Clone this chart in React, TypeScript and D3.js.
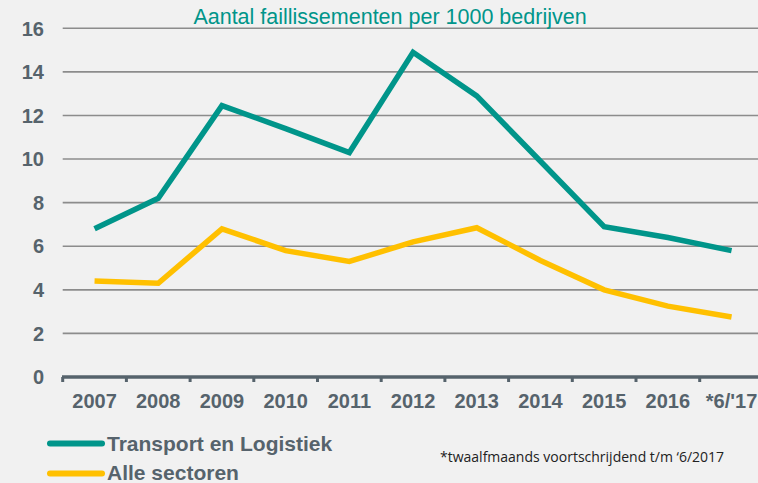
import React from "react";
import * as d3 from "d3";

const categories = ["2007","2008","2009","2010","2011","2012","2013","2014","2015","2016","*6/'17"];
const transport = [6.8, 8.2, 12.45, 11.4, 10.3, 14.9, 12.9, 9.9, 6.9, 6.4, 5.8];
const alle = [4.4, 4.3, 6.8, 5.8, 5.3, 6.2, 6.85, 5.35, 4.0, 3.25, 2.75];
const yTicks = [0, 2, 4, 6, 8, 10, 12, 14, 16];
const seriesNames = ["Transport en Logistiek", "Alle sectoren"];
const title = "Aantal faillissementen per 1000 bedrijven";
const footnote = "*twaalfmaands voortschrijdend t/m \u20186/2017";

const W = 758, H = 483;
const TEAL = "#00958a";
const YEL = "#ffc000";
const AX = "#56636c";

export default function App() {
  const x = d3.scaleBand().domain(categories).range([62.7, 763.4]).padding(0);
  const y = d3.scaleLinear().domain([0, 16]).range([377, 28.3]);
  const line = d3.line<number>()
    .x((_, i) => (x(categories[i]) as number) + x.bandwidth() / 2)
    .y((d) => y(d));
  const font = "Arial, 'Liberation Sans', sans-serif";
  return (
    <svg width={W} height={H} style={{ position: "absolute", left: 0, top: 0, background: "#f1f1f1" }}>
      <rect x={0} y={0} width={W} height={H} fill="#f1f1f1" />
      {yTicks.filter(t => t > 0).map(t => (
        <line key={t} x1={62.7} x2={W} y1={y(t)} y2={y(t)} stroke="#8c8c8c" strokeWidth={1.6} />
      ))}
      {yTicks.map(t => (
        <text key={"l" + t} x={44} y={y(t)} dy="0.36em" textAnchor="end" fontFamily={font}
          fontWeight="bold" fontSize={20} fill={AX}>{t}</text>
      ))}
      <line x1={62} x2={W} y1={y(0)} y2={y(0)} stroke={AX} strokeWidth={3.5} />
      {categories.map(c => (
        <line key={"t" + c} x1={x(c) as number} x2={x(c) as number} y1={y(0)} y2={y(0) + 5} stroke={AX} strokeWidth={3} />
      ))}
      {categories.map(c => (
        <text key={"x" + c} x={(x(c) as number) + x.bandwidth() / 2} y={401} dy="0.36em" textAnchor="middle"
          fontFamily={font} fontWeight="bold" fontSize={20} fill={AX}>{c}</text>
      ))}
      <path d={line(alle) || ""} fill="none" stroke={YEL} strokeWidth={5.5} strokeLinejoin="miter" />
      <path d={line(transport) || ""} fill="none" stroke={TEAL} strokeWidth={5.5} strokeLinejoin="miter" />
      <text x={390} y={16} dy="0.36em" textAnchor="middle" fontFamily={font} fontSize={21.5} fill={TEAL}>{title}</text>
      <line x1={50} x2={102} y1={443.5} y2={443.5} stroke={TEAL} strokeWidth={6} strokeLinecap="round" />
      <text x={107} y={443} dy="0.36em" fontFamily={font} fontWeight="bold" fontSize={21} fill={AX}>{seriesNames[0]}</text>
      <line x1={50} x2={102} y1={473.5} y2={473.5} stroke={YEL} strokeWidth={6} strokeLinecap="round" />
      <text x={107} y={472.5} dy="0.36em" fontFamily={font} fontWeight="bold" fontSize={21} fill={AX}>{seriesNames[1]}</text>
      <text x={440} y={457} dy="0.36em" fontFamily="'Open Sans', sans-serif" fontSize={14} fill="#222">{footnote}</text>
    </svg>
  );
}
